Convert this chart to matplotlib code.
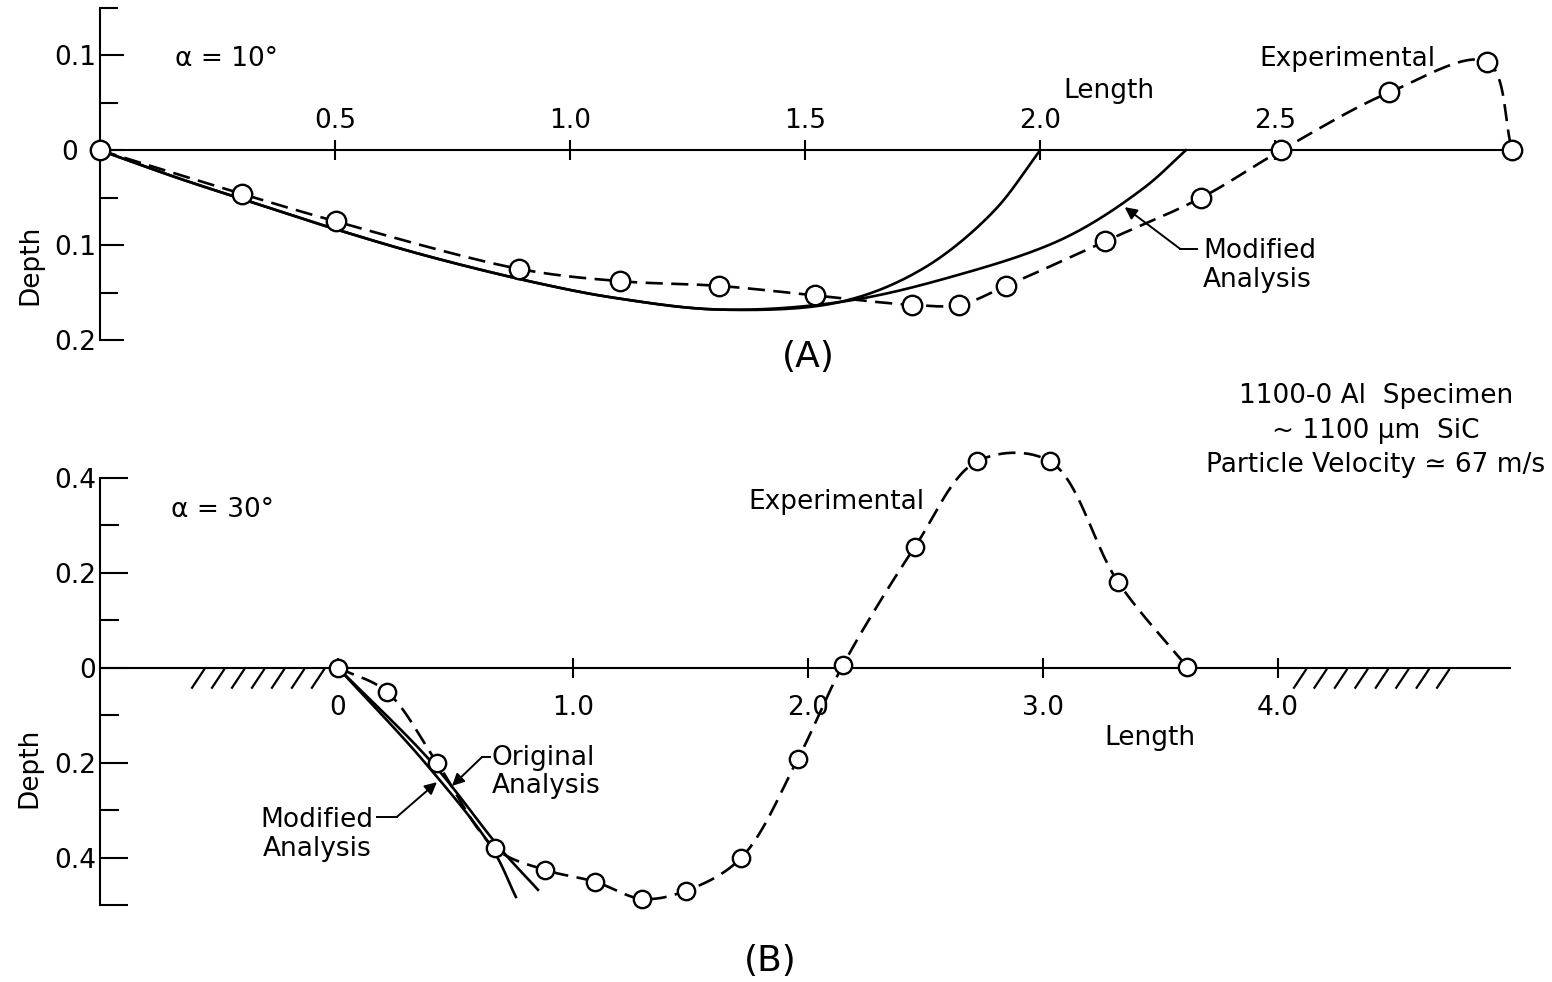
import numpy as np
import matplotlib
matplotlib.use("Agg")
import matplotlib.pyplot as plt

plt.rcParams['font.family'] = ['DejaVu Sans']

# ---------------- data ----------------
# heights are measured upwards from the surface, so depth is negative

# (A) alpha = 10 deg
a_exp_len = [0.0, 0.302, 0.502, 0.891, 1.106, 1.317, 1.521, 1.728, 1.828,
             1.928, 2.138, 2.343, 2.513, 2.743, 2.951, 3.004]
a_exp_h = [0.0, -0.046, -0.075, -0.125, -0.138, -0.143, -0.153, -0.163, -0.163,
           -0.143, -0.096, -0.050, 0.0, 0.061, 0.093, 0.0]

# analysis curves share the first part of the path
a_common_len = [0.0, 0.17, 0.30, 0.50, 0.70, 0.94, 1.10, 1.32, 1.574]
a_common_h = [0.0, -0.030, -0.051, -0.083, -0.112, -0.141, -0.156, -0.168, -0.160]
a_orig_len = a_common_len + [1.75, 1.90, 2.0]
a_orig_h = a_common_h + [-0.125, -0.065, 0.0]
a_mod_len = a_common_len + [1.80, 2.05, 2.22, 2.31]
a_mod_h = a_common_h + [-0.135, -0.093, -0.040, 0.0]

# (B) alpha = 30 deg
b_exp_len = [0.0, 0.209, 0.421, 0.668, 0.881, 1.094, 1.294, 1.481, 1.715,
             1.957, 2.149, 2.455, 2.719, 3.030, 3.319, 3.613]
b_exp_h = [0.0, -0.051, -0.200, -0.380, -0.426, -0.451, -0.487, -0.470, -0.401,
           -0.192, 0.006, 0.255, 0.435, 0.435, 0.181, 0.002]

b_mod_len = [0.0, 0.370, 0.655, 0.757]
b_mod_h = [0.0, -0.200, -0.380, -0.483]
b_orig_len = [0.0, 0.400, 0.689, 0.851]
b_orig_h = [0.0, -0.200, -0.380, -0.468]

a_xticks = [0.5, 1.0, 1.5, 2.0, 2.5, 3.0]
a_xlabels = ['0.5', '1.0', '1.5', '2.0', '2.5', '']
a_yticks = [0.1, 0.0, -0.1, -0.2]
a_ylabels = ['0.1', '0  ', '0.1', '0.2']
b_xticks = [0.0, 1.0, 2.0, 3.0, 4.0]
b_xlabels = ['0', '1.0', '2.0', '3.0', '4.0']
b_yticks = [0.4, 0.2, 0.0, -0.2, -0.4, -0.5]
b_ylabels = ['0.4', '0.2', '0', '0.2', '0.4', '']

info_lines = ['1100-0 Al  Specimen', '~ 1100 \u03bcm  SiC', 'Particle Velocity \u2243 67 m/s']

FS = 19
LW = 1.5
YSCALE = 2.0   # screen aspect of one y unit vs one x unit


def smooth(xs, ys, n=30):
    """centripetal catmull-rom curve through the points"""
    p = np.column_stack([xs, np.asarray(ys, float) * YSCALE]).astype(float)
    p = np.vstack([2 * p[0] - p[1], p, 2 * p[-1] - p[-2]])
    out = []
    for i in range(1, len(p) - 2):
        p0, p1, p2, p3 = p[i - 1], p[i], p[i + 1], p[i + 2]
        t0 = 0.0
        t1 = t0 + np.linalg.norm(p1 - p0) ** 0.5
        t2 = t1 + np.linalg.norm(p2 - p1) ** 0.5
        t3 = t2 + np.linalg.norm(p3 - p2) ** 0.5
        t = np.linspace(t1, t2, n)[:, None]
        a1 = (t1 - t) / (t1 - t0) * p0 + (t - t0) / (t1 - t0) * p1
        a2 = (t2 - t) / (t2 - t1) * p1 + (t - t1) / (t2 - t1) * p2
        a3 = (t3 - t) / (t3 - t2) * p2 + (t - t2) / (t3 - t2) * p3
        b1 = (t2 - t) / (t2 - t0) * a1 + (t - t0) / (t2 - t0) * a2
        b2 = (t3 - t) / (t3 - t1) * a2 + (t - t1) / (t3 - t1) * a3
        c = (t2 - t) / (t2 - t1) * b1 + (t - t1) / (t2 - t1) * b2
        out.append(c if i == 1 else c[1:])
    out = np.vstack(out)
    return out[:, 0], out[:, 1] / YSCALE


def solid(ax, xs, ys):
    sx, sy = smooth(xs, ys)
    ax.plot(sx, sy, color='black', lw=1.9, clip_on=False, zorder=2)


def experimental(ax, xs, ys, ms):
    sx, sy = smooth(xs, ys)
    ax.plot(sx, sy, color='black', lw=1.9, dashes=(6.5, 3.2), clip_on=False, zorder=2)
    ax.plot(xs, ys, 'o', ms=ms, mfc='white', mec='black', mew=1.7,
            clip_on=False, zorder=3)


def leader(ax, text_pt, knee, tip):
    ax.plot([text_pt[0], knee[0]], [text_pt[1], knee[1]], color='black', lw=1.4)
    ax.annotate('', xy=tip, xytext=knee,
                arrowprops=dict(arrowstyle='-|>', color='black', lw=1.4,
                                mutation_scale=18, shrinkA=0, shrinkB=0))


fig = plt.figure(figsize=(15.52, 9.82), dpi=100)
axA = fig.add_axes([0.0644, 0.6538, 0.9117, 0.3381])
axB = fig.add_axes([0.0644, 0.0784, 0.9085, 0.4348])

# ---------------- panel A ----------------
axA.set_xlim(0, 3.01)
axA.set_ylim(-0.2, 0.15)
axA.spines['right'].set_visible(False)
axA.spines['bottom'].set_visible(False)
axA.spines['top'].set_position(('data', 0))
for s in ['top', 'left']:
    axA.spines[s].set_linewidth(LW)
axA.xaxis.set_ticks_position('top')
axA.set_xticks(a_xticks)
axA.set_xticklabels(a_xlabels)
axA.tick_params(axis='x', direction='inout', length=14, width=LW, pad=5, labelsize=FS)
axA.set_yticks(a_yticks)
axA.set_yticklabels(a_ylabels)
axA.set_yticks([0.15, 0.05, -0.05, -0.15], minor=True)
axA.tick_params(axis='y', which='major', direction='in', length=17, width=LW,
                pad=3, labelsize=FS)
axA.tick_params(axis='y', which='minor', direction='in', length=13, width=LW)
axA.set_ylabel('Depth', fontsize=FS)
axA.yaxis.set_label_coords(-0.040, 0.226)

solid(axA, a_orig_len, a_orig_h)
solid(axA, a_mod_len, a_mod_h)
experimental(axA, a_exp_len, a_exp_h, ms=14)

axA.text(0.160, 0.096, '\u03b1 = 10\u00b0', fontsize=FS, ha='left', va='center')
axA.text(2.147, 0.062, 'Length', fontsize=FS, ha='center', va='center')
axA.text(2.653, 0.096, 'Experimental', fontsize=FS, ha='center', va='center')
axA.text(2.347, -0.121, 'Modified\nAnalysis', fontsize=FS, ha='left', va='center',
         linespacing=1.15)
leader(axA, (2.334, -0.104), (2.298, -0.104), (2.180, -0.060))
axA.text(1.506, -0.218, '(A)', fontsize=26, ha='center', va='center')

# ---------------- panel B ----------------
axB.set_xlim(-1.013, 4.987)
axB.set_ylim(-0.5, 0.4)
axB.spines['right'].set_visible(False)
axB.spines['top'].set_visible(False)
axB.spines['bottom'].set_position(('data', 0))
for s in ['bottom', 'left']:
    axB.spines[s].set_linewidth(LW)
axB.set_xticks(b_xticks)
axB.set_xticklabels(b_xlabels)
axB.tick_params(axis='x', direction='inout', length=15, width=LW, pad=12, labelsize=FS)
axB.set_yticks(b_yticks)
axB.set_yticklabels(b_ylabels)
axB.set_yticks([0.3, 0.1, -0.1, -0.3], minor=True)
axB.tick_params(axis='y', which='major', direction='in', length=20, width=LW,
                pad=3, labelsize=FS)
axB.tick_params(axis='y', which='minor', direction='in', length=14, width=LW)
axB.set_ylabel('Depth', fontsize=FS)
axB.yaxis.set_label_coords(-0.041, 0.321)

# hatched surface either side of the crater
for x0 in np.arange(7) * 0.085 - 0.621:
    axB.plot([x0, x0 + 0.051], [-0.042, -0.004], color='black', lw=1.6)
for x0 in np.arange(8) * 0.087 + 4.068:
    axB.plot([x0, x0 + 0.051], [-0.042, -0.004], color='black', lw=1.6)

solid(axB, b_mod_len, b_mod_h)
solid(axB, b_orig_len, b_orig_h)
experimental(axB, b_exp_len, b_exp_h, ms=12.5)

axB.text(-0.711, 0.333, '\u03b1 = 30\u00b0', fontsize=FS, ha='left', va='center')
axB.text(2.123, 0.350, 'Experimental', fontsize=FS, ha='center', va='center')
axB.text(3.455, -0.148, 'Length', fontsize=FS, ha='center', va='center')
for line, yy in zip(info_lines, [0.572, 0.500, 0.428]):
    axB.text(4.417, yy, line, fontsize=FS, ha='center', va='center')
axB.text(0.655, -0.220, 'Original\nAnalysis', fontsize=FS, ha='left', va='center',
         linespacing=1.1)
leader(axB, (0.647, -0.188), (0.613, -0.188), (0.485, -0.249))
axB.text(0.150, -0.352, 'Modified\nAnalysis', fontsize=FS, ha='right', va='center',
         multialignment='center', linespacing=1.15)
leader(axB, (0.166, -0.314), (0.251, -0.314), (0.421, -0.241))
axB.text(1.838, -0.618, '(B)', fontsize=26, ha='center', va='center')

fig.savefig('out.png', dpi=100, facecolor='white')
